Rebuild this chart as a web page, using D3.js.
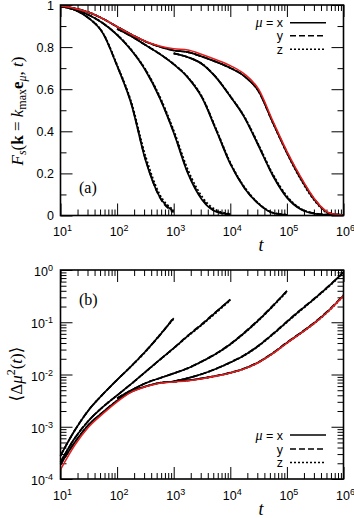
<!DOCTYPE html>
<html>
<head>
<meta charset="utf-8">
<script src="https://cdn.jsdelivr.net/npm/d3@7"></script>
<style>
  body { margin: 0; background: #fff; }
</style>
</head>
<body>
<div id="chart"></div>
<script>

// time grid shared by every curve (quarter decades)
var tGrid = [10, 17.8, 31.6, 56.2, 100, 178, 316, 562, 1e3, 1.78e3, 3.16e3, 5.62e3,
             1e4, 1.78e4, 3.16e4, 5.62e4, 1e5, 1.78e5, 3.16e5, 5.62e5, 1e6];
var _ = null;

// panel (a): F_s(t), components mu = x, y, z
var FA_x = [0.995,0.977,0.937,0.865,0.710,0.530,0.265,0.090,0.020,_,_,_,_,_,_,_,_,_,_,_,_];
var FA_y = [0.995,0.977,0.937,0.866,0.712,0.533,0.270,0.088,0.015,_,_,_,_,_,_,_,_,_,_,_,_];
var FA_z = [0.995,0.977,0.938,0.868,0.716,0.540,0.285,0.102,0.026,_,_,_,_,_,_,_,_,_,_,_,_];
var FB_x = [0.995,0.978,0.952,0.913,0.858,0.785,0.690,0.560,0.393,0.200,0.075,0.018,0.005,_,_,_,_,_,_,_,_];
var FB_y = [0.995,0.978,0.952,0.913,0.858,0.786,0.692,0.562,0.397,0.205,0.080,0.020,0.006,_,_,_,_,_,_,_,_];
var FB_z = [0.995,0.978,0.953,0.914,0.860,0.788,0.695,0.568,0.405,0.218,0.090,0.026,0.008,_,_,_,_,_,_,_,_];
var FC_x = [_,_,_,_,0.886,0.852,0.810,0.768,0.718,0.655,0.560,0.405,0.245,0.130,0.055,0.012,0.003,_,_,_,_];
var FC_y = [_,_,_,_,0.886,0.852,0.810,0.768,0.719,0.656,0.562,0.408,0.248,0.132,0.056,0.013,0.003,_,_,_,_];
var FC_z = [_,_,_,_,0.886,0.852,0.811,0.769,0.720,0.658,0.565,0.412,0.252,0.135,0.058,0.014,0.004,_,_,_,_];
var FD_x = [_,_,_,_,_,_,_,_,0.770,0.752,0.720,0.655,0.565,0.465,0.330,0.190,0.085,0.028,0.008,0.003,0.002];
var FD_y = [_,_,_,_,_,_,_,_,0.770,0.752,0.720,0.656,0.566,0.467,0.333,0.193,0.088,0.030,0.009,0.003,0.002];
var FD_z = [_,_,_,_,_,_,_,_,0.770,0.752,0.721,0.657,0.568,0.470,0.337,0.198,0.092,0.032,0.010,0.004,0.002];
var FE_x = [0.995,0.984,0.965,0.935,0.897,0.860,0.827,0.802,0.784,0.776,0.755,0.730,0.701,0.661,0.590,0.442,0.298,0.172,0.070,0.010,0.002];
var FE_y = [0.995,0.984,0.965,0.935,0.897,0.860,0.827,0.802,0.784,0.776,0.755,0.730,0.701,0.661,0.590,0.444,0.301,0.176,0.073,0.012,0.002];
var FE_z = [0.995,0.984,0.965,0.935,0.897,0.860,0.827,0.802,0.784,0.776,0.755,0.730,0.701,0.661,0.590,0.440,0.296,0.168,0.066,0.009,0.002];
var F_red = [0.995,0.984,0.965,0.935,0.897,0.860,0.828,0.805,0.792,0.786,0.765,0.740,0.712,0.672,0.600,0.450,0.305,0.180,0.075,0.012,0.002];

// panel (b): <dmu^2(t)>
var MA_x = [2.8e-4,8.5e-4,2.1e-3,4.2e-3,7.9e-3,1.45e-2,2.75e-2,5.6e-2,0.120,_,_,_,_,_,_,_,_,_,_,_,_];
var MA_y = [2.8e-4,8.5e-4,2.1e-3,4.2e-3,7.9e-3,1.45e-2,2.78e-2,5.5e-2,0.125,_,_,_,_,_,_,_,_,_,_,_,_];
var MA_z = [2.8e-4,8.5e-4,2.1e-3,4.2e-3,7.9e-3,1.44e-2,2.70e-2,5.7e-2,0.115,_,_,_,_,_,_,_,_,_,_,_,_];
var MB_x = [2.1e-4,6.0e-4,1.32e-3,2.4e-3,4.0e-3,6.6e-3,1.12e-2,1.9e-2,3.2e-2,5.5e-2,9.1e-2,0.158,0.275,_,_,_,_,_,_,_,_];
var MB_y = [2.1e-4,6.0e-4,1.32e-3,2.4e-3,4.0e-3,6.6e-3,1.12e-2,1.9e-2,3.2e-2,5.6e-2,9.3e-2,0.160,0.270,_,_,_,_,_,_,_,_];
var MB_z = [2.1e-4,6.0e-4,1.32e-3,2.4e-3,4.0e-3,6.6e-3,1.11e-2,1.88e-2,3.15e-2,5.4e-2,8.9e-2,0.152,0.262,_,_,_,_,_,_,_,_];
var MC_x = [_,_,_,_,3.5e-3,5.0e-3,6.8e-3,8.5e-3,1.05e-2,1.32e-2,1.78e-2,2.5e-2,3.8e-2,6.3e-2,0.110,0.204,0.400,_,_,_,_];
var MC_y = [_,_,_,_,3.5e-3,5.0e-3,6.8e-3,8.5e-3,1.05e-2,1.33e-2,1.80e-2,2.52e-2,3.85e-2,6.4e-2,0.112,0.208,0.395,_,_,_,_];
var MC_z = [_,_,_,_,3.5e-3,5.0e-3,6.8e-3,8.5e-3,1.05e-2,1.31e-2,1.77e-2,2.48e-2,3.75e-2,6.2e-2,0.108,0.200,0.385,_,_,_,_];
var MD_x = [_,_,_,_,_,_,_,_,7.4e-3,8.5e-3,1.02e-2,1.29e-2,1.7e-2,2.34e-2,3.55e-2,5.9e-2,0.102,0.174,0.290,0.500,0.910];
var MD_y = [_,_,_,_,_,_,_,_,7.4e-3,8.5e-3,1.02e-2,1.30e-2,1.72e-2,2.37e-2,3.6e-2,6.0e-2,0.104,0.177,0.295,0.510,0.900];
var MD_z = [_,_,_,_,_,_,_,_,7.4e-3,8.5e-3,1.02e-2,1.28e-2,1.69e-2,2.32e-2,3.5e-2,5.8e-2,0.100,0.170,0.285,0.490,0.880];
var ME_x = [1.9e-4,5.0e-4,1.1e-3,1.9e-3,3.16e-3,4.7e-3,5.9e-3,6.9e-3,7.3e-3,7.7e-3,8.4e-3,9.4e-3,1.08e-2,1.3e-2,1.72e-2,2.55e-2,4.05e-2,6.3e-2,0.100,0.172,0.325];
var ME_y = [1.9e-4,5.0e-4,1.1e-3,1.9e-3,3.16e-3,4.7e-3,5.9e-3,6.9e-3,7.3e-3,7.7e-3,8.4e-3,9.4e-3,1.09e-2,1.31e-2,1.74e-2,2.58e-2,4.1e-2,6.4e-2,0.102,0.176,0.330];
var ME_z = [1.9e-4,5.0e-4,1.1e-3,1.9e-3,3.16e-3,4.7e-3,5.9e-3,6.9e-3,7.3e-3,7.7e-3,8.4e-3,9.4e-3,1.07e-2,1.29e-2,1.70e-2,2.52e-2,4.0e-2,6.2e-2,0.098,0.168,0.318];
var M_red = [1.51e-4,4.4e-4,1.0e-3,1.78e-3,3.0e-3,4.6e-3,5.8e-3,6.8e-3,7.2e-3,7.6e-3,8.3e-3,9.3e-3,1.07e-2,1.29e-2,1.7e-2,2.5e-2,4.0e-2,6.2e-2,9.8e-2,0.170,0.320];

// ticks
var xMajor = [10, 100, 1e3, 1e4, 1e5, 1e6];
var xExp = ["1", "2", "3", "4", "5", "6"];
var yMajorA = [0, 0.2, 0.4, 0.6, 0.8, 1];
var yLabelA = ["0", "0.2", "0.4", "0.6", "0.8", "1"];
var yMinorA = [0.1, 0.3, 0.5, 0.7, 0.9];
var yMajorB = [1e-4, 1e-3, 1e-2, 1e-1, 1];
var yExpB = ["-4", "-3", "-2", "-1", "0"];
var legendNames = ["x", "y", "z"];
var legendDash = [null, "6,3", "2,2"];

var serif = "Liberation Serif, DejaVu Serif, serif";

var svg = d3.select("#chart").append("svg")
   .attr("width", 354)
   .attr("height", 518)
   .attr("font-family", "Liberation Sans, Arial, sans-serif");

var left = 60.5, right = 343.5;
var x = d3.scaleLog().domain([10, 1e6]).range([left, right]);
var ya = d3.scaleLinear().domain([0, 1]).range([215.5, 5]);
var yb = d3.scaleLog().domain([1e-4, 1]).range([479, 270]);

function minorLog(lo, hi) {
   var out = [];
   for (var d = lo; d < hi; d *= 10)
      for (var k = 2; k <= 9; k++) out.push(d * k);
   return out;
}
var xMinor = minorLog(10, 1e6);
var yMinorB = minorLog(1e-4, 1);

function ticks(g, axis, pos, vals, size) {
   var a = g.append("g")
      .attr("transform", pos)
      .call(axis.tickValues(vals).tickSize(-size).tickSizeOuter(0).tickFormat(""));
   a.select(".domain").remove();
   a.selectAll("line").attr("stroke", "#000").attr("stroke-width", 1);
}

function panel(y, yMaj, yMin, top, bottom) {
   var g = svg.append("g");
   ticks(g, d3.axisBottom(x), "translate(0," + bottom + ")", xMajor, 12);
   ticks(g, d3.axisBottom(x), "translate(0," + bottom + ")", xMinor, 6);
   ticks(g, d3.axisTop(x), "translate(0," + top + ")", xMajor, 12);
   ticks(g, d3.axisTop(x), "translate(0," + top + ")", xMinor, 6);
   ticks(g, d3.axisLeft(y), "translate(" + left + ",0)", yMaj, 12);
   ticks(g, d3.axisLeft(y), "translate(" + left + ",0)", yMin, 6);
   ticks(g, d3.axisRight(y), "translate(" + right + ",0)", yMaj, 12);
   ticks(g, d3.axisRight(y), "translate(" + right + ",0)", yMin, 6);
   return g;
}

function powText(sel, e) {
   sel.append("tspan").text("10");
   sel.append("tspan").attr("dy", -5).attr("font-size", 9).text(e);
}

function curves(g, y, sets, red) {
   var line = d3.line()
      .defined(function(d) { return d[1] != null; })
      .x(function(d) { return x(d[0]); })
      .y(function(d) { return y(d[1]); })
      .curve(d3.curveMonotoneX);
   sets.forEach(function(s) {
      s.forEach(function(vals, i) {
         g.append("path")
            .attr("d", line(tGrid.map(function(t, j) { return [t, vals[j]]; })))
            .attr("fill", "none")
            .attr("stroke", "#000")
            .attr("stroke-width", 1.7)
            .attr("stroke-dasharray", legendDash[i]);
      });
   });
   g.append("path")
      .attr("d", line(tGrid.map(function(t, j) { return [t, red[j]]; })))
      .attr("fill", "none")
      .attr("stroke", "#e41e1e")
      .attr("stroke-width", 1.6);
}

function legend(g, rows) {
   rows.forEach(function(ry, i) {
      var t = g.append("text")
         .attr("x", 283).attr("y", ry + 4.5)
         .attr("text-anchor", "end")
         .attr("font-size", 12.5);
      if (i == 0) {
         t.append("tspan").attr("font-family", serif).attr("font-style", "italic")
            .attr("font-size", 14).text("\u03bc");
         t.append("tspan").text(" = " + legendNames[i]);
      } else t.text(legendNames[i]);
      g.append("line")
         .attr("x1", 290).attr("x2", 326).attr("y1", ry).attr("y2", ry)
         .attr("stroke", "#000").attr("stroke-width", 1.5)
         .attr("stroke-dasharray", legendDash[i]);
   });
}

function frame(g, top, bottom) {
   g.append("rect")
      .attr("x", left).attr("y", top)
      .attr("width", right - left).attr("height", bottom - top)
      .attr("fill", "none").attr("stroke", "#000").attr("stroke-width", 1.6);
}

// ---- panel (a)
var ga = panel(ya, yMajorA, yMinorA, 5, 215.5);
curves(ga, ya, [[FA_x, FA_y, FA_z], [FB_x, FB_y, FB_z], [FC_x, FC_y, FC_z],
                [FD_x, FD_y, FD_z], [FE_x, FE_y, FE_z]], F_red);
frame(ga, 5, 215.5);
legend(ga, [22.7, 35.7, 49.3]);

ga.selectAll(".ylab").data(yMajorA).enter().append("text")
   .attr("x", 54).attr("y", function(d) { return ya(d) + 4.5; })
   .attr("text-anchor", "end").attr("font-size", 12.5)
   .text(function(d, i) { return yLabelA[i]; });
xMajor.forEach(function(v, i) {
   powText(ga.append("text").attr("x", x(v) + 2).attr("y", 236)
      .attr("text-anchor", "middle").attr("font-size", 12.5), xExp[i]);
});
ga.append("text").attr("x", 79).attr("y", 193)
   .attr("font-family", serif).attr("font-size", 16).text("(a)");
ga.append("text").attr("x", 261).attr("y", 251).attr("text-anchor", "middle")
   .attr("font-family", serif).attr("font-style", "italic").attr("font-size", 18).text("t");

var la = ga.append("text")
   .attr("transform", "translate(23,111) rotate(-90)")
   .attr("text-anchor", "middle")
   .attr("font-family", serif).attr("font-size", 17);
la.append("tspan").attr("font-style", "italic").text("F");
la.append("tspan").attr("font-style", "italic").attr("font-size", 12).attr("dy", 3).text("s");
la.append("tspan").attr("dy", -3).text("(");
la.append("tspan").attr("font-weight", "bold").text("k");
la.append("tspan").text(" = ");
la.append("tspan").attr("font-style", "italic").text("k");
la.append("tspan").attr("font-size", 12).attr("dy", 3).text("max");
la.append("tspan").attr("dy", -3).attr("font-weight", "bold").text("e");
la.append("tspan").attr("font-style", "italic").attr("font-size", 12).attr("dy", 3).text("\u03bc");
la.append("tspan").attr("dy", -3).text(", ");
la.append("tspan").attr("font-style", "italic").text("t");
la.append("tspan").text(")");

// ---- panel (b)
var gb = panel(yb, yMajorB, yMinorB, 270, 479);
curves(gb, yb, [[MA_x, MA_y, MA_z], [MB_x, MB_y, MB_z], [MC_x, MC_y, MC_z],
                [MD_x, MD_y, MD_z], [ME_x, ME_y, ME_z]], M_red);
frame(gb, 270, 479);
legend(gb, [435, 449, 462.5]);

yMajorB.forEach(function(v, i) {
   powText(gb.append("text").attr("x", 53).attr("y", yb(v) + 6)
      .attr("text-anchor", "end").attr("font-size", 12.5), yExpB[i]);
});
xMajor.forEach(function(v, i) {
   powText(gb.append("text").attr("x", x(v) + 2).attr("y", 500)
      .attr("text-anchor", "middle").attr("font-size", 12.5), xExp[i]);
});
gb.append("text").attr("x", 79).attr("y", 305)
   .attr("font-family", serif).attr("font-size", 16).text("(b)");
gb.append("text").attr("x", 261).attr("y", 515).attr("text-anchor", "middle")
   .attr("font-family", serif).attr("font-style", "italic").attr("font-size", 18).text("t");

var lb = gb.append("text")
   .attr("transform", "translate(22,374) rotate(-90)")
   .attr("text-anchor", "middle")
   .attr("font-family", serif).attr("font-size", 17);
lb.append("tspan").text("\u27e8\u0394");
lb.append("tspan").attr("font-style", "italic").text("\u03bc");
lb.append("tspan").attr("font-size", 12).attr("dy", -7).text("2");
lb.append("tspan").attr("dy", 7).text("(");
lb.append("tspan").attr("font-style", "italic").text("t");
lb.append("tspan").text(")\u27e9");

</script>
</body>
</html>
